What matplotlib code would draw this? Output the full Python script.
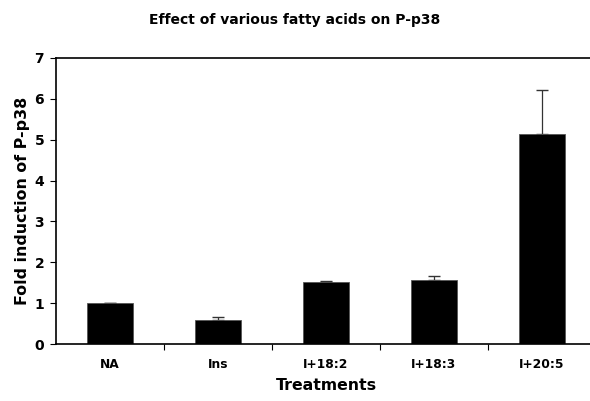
import matplotlib.pyplot as plt
import numpy as np

categories = ["NA", "Ins", "I+18:2", "I+18:3", "I+20:5"]
fold_induction = [1.0, 0.58, 1.52, 1.56, 5.13]
upper_error = [0.0, 0.07, 0.02, 0.11, 1.09]

plt.rcParams['font.family'] = ['DejaVu Sans']
plt.rcParams['font.weight'] = 'bold'

fig = plt.figure(figsize=(5.9, 4.01), dpi=100)
ax = fig.add_axes([0.0949, 0.1421, 0.9151, 0.7133])

x = np.arange(len(categories))
ax.bar(x, fold_induction, width=0.42, color='black', edgecolor='#555555', linewidth=0.6, zorder=2)
ax.errorbar(x, fold_induction, yerr=[np.zeros(len(upper_error)), upper_error],
            fmt='none', ecolor='#333333', elinewidth=0.9, capsize=4, capthick=1.0, zorder=1)

ax.set_xlim(-0.5, len(categories) - 0.5)
ax.set_ylim(0, 7)
ax.set_yticks(range(0, 8))
ax.set_xticks(x)
ax.set_xticklabels(categories, fontsize=8.8, fontweight='bold')
ax.set_xticks(np.arange(0.5, len(categories) - 0.5), minor=True)
ax.tick_params(axis='x', which='major', length=0, pad=10)
ax.tick_params(axis='x', which='minor', length=4, direction='out', width=0.8)
ax.tick_params(axis='y', length=4.5, direction='out', width=0.8, labelsize=10, pad=4)
for lab in ax.get_yticklabels():
    lab.set_fontweight('bold')

for side in ['left', 'bottom', 'top']:
    ax.spines[side].set_linewidth(1.2)
ax.spines['right'].set_visible(False)

ax.set_ylabel("Fold induction of P-p38", fontsize=11.4, fontweight='bold', labelpad=3)
ax.set_xlabel("Treatments", fontsize=11.3, fontweight='bold', labelpad=5)
fig.text(0.5, 0.95, "Effect of various fatty acids on P-p38", ha='center', va='center',
         fontsize=10, fontweight='bold')

fig.savefig("out.png", dpi=100)
